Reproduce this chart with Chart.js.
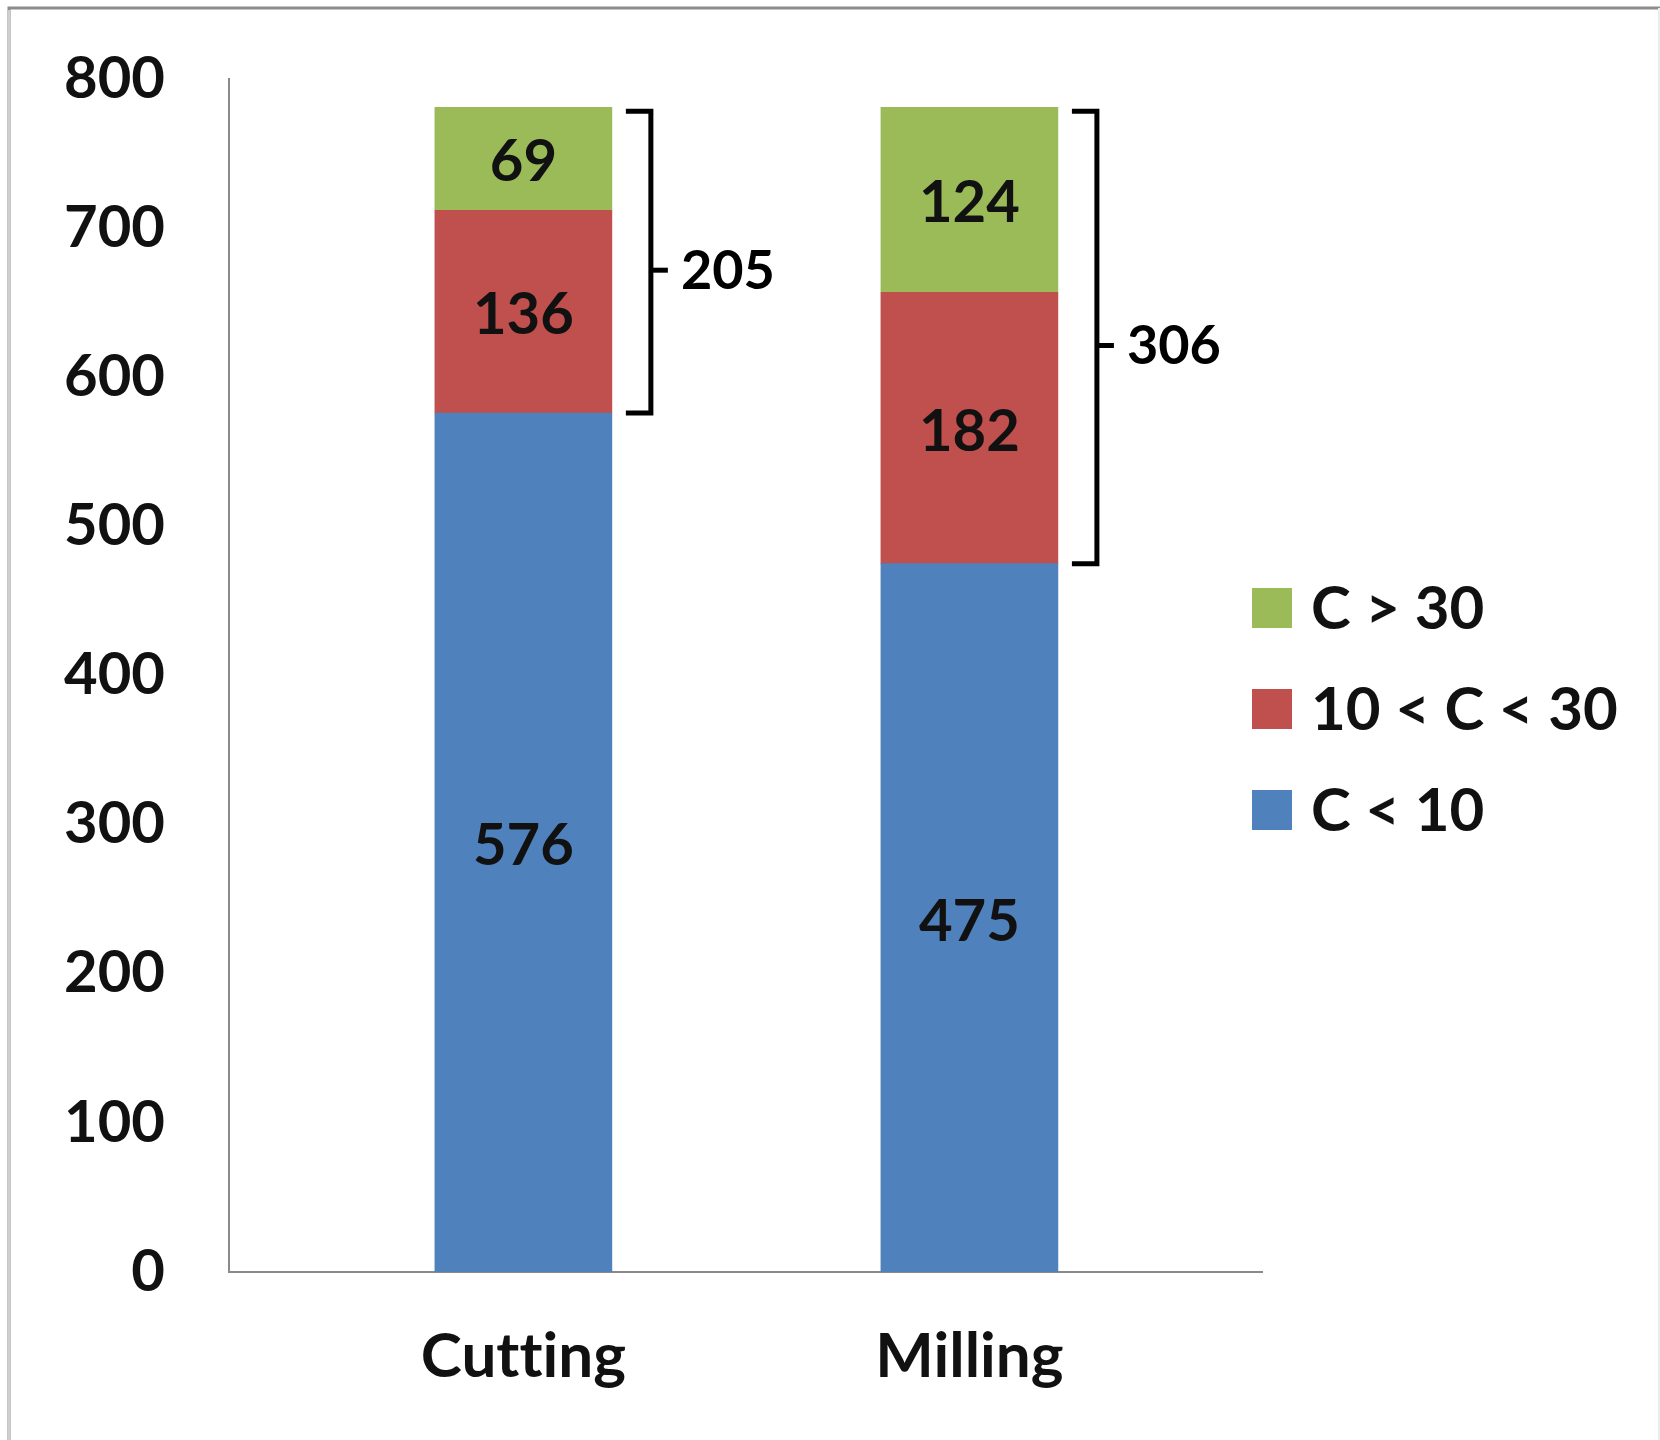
<!DOCTYPE html>
<html>
<head>
<meta charset="utf-8">
<title>Cutting vs Milling</title>
<script src="https://cdn.jsdelivr.net/npm/chart.js@4.4.1/dist/chart.umd.min.js"></script>
<style>
  html, body { margin: 0; padding: 0; background: #ffffff; }
  #wrap { position: relative; width: 1660px; height: 1440px; }
  canvas { display: block; }
</style>
</head>
<body>
<div id="wrap"><canvas id="chart" width="1660" height="1440"></canvas></div>
<script>
// Categories and stacked series (bottom to top)
const categories = ['Cutting', 'Milling'];
const seriesLabels = ['C < 10', '10 < C < 30', 'C > 30'];
const lowValues = [576, 475];
const midValues = [136, 182];
const highValues = [69, 124];
const yTicks = [0, 100, 200, 300, 400, 500, 600, 700, 800];

const colors = ['#4F81BD', '#C0504D', '#9BBB59'];
const FONT = 'Lato, "Open Sans", sans-serif';

function toPoints(values) {
  return values.map((v, i) => ({ x: i, y: v }));
}

// White page, frame lines and plain (non-ligated) text shaping
const framePlugin = {
  id: 'frame',
  beforeDraw(chart) {
    const ctx = chart.ctx;
    if ('textRendering' in ctx) ctx.textRendering = 'optimizeSpeed';
    ctx.save();
    ctx.fillStyle = '#ffffff';
    ctx.fillRect(0, 0, chart.width, chart.height);
    ctx.lineWidth = 3;
    ctx.strokeStyle = '#8c8c8c';
    ctx.beginPath();
    ctx.moveTo(9, 1440);
    ctx.lineTo(9, 8);
    ctx.lineTo(1660, 8);
    ctx.stroke();
    ctx.strokeStyle = '#cfcfcf';
    ctx.lineWidth = 2;
    ctx.beginPath();
    ctx.moveTo(9, 10);
    ctx.lineTo(9, 1440);
    ctx.stroke();
    ctx.strokeStyle = '#ececec';
    ctx.beginPath();
    ctx.moveTo(1659, 8);
    ctx.lineTo(1659, 1440);
    ctx.stroke();
    ctx.restore();
  }
};

// Value labels centred in each bar segment
const valueLabelPlugin = {
  id: 'valueLabels',
  afterDatasetsDraw(chart) {
    const ctx = chart.ctx;
    ctx.save();
    ctx.font = 'bold 58px ' + FONT;
    ctx.fillStyle = '#111111';
    ctx.textAlign = 'center';
    ctx.textBaseline = 'middle';
    chart.data.datasets.forEach((ds, di) => {
      const meta = chart.getDatasetMeta(di);
      meta.data.forEach((bar, i) => {
        const p = bar.getProps(['x', 'y', 'base'], true);
        ctx.fillText(String(ds.data[i].y), p.x, (p.y + p.base) / 2 + 4);
      });
    });
    ctx.restore();
  }
};

// Brackets spanning the two upper segments, labelled with their sum
const bracketPlugin = {
  id: 'brackets',
  afterDatasetsDraw(chart) {
    const ctx = chart.ctx;
    const y = chart.scales.y;
    const meta = chart.getDatasetMeta(0);
    ctx.save();
    ctx.strokeStyle = '#000000';
    ctx.lineWidth = 5;
    ctx.lineCap = 'butt';
    ctx.font = 'bold 54px ' + FONT;
    ctx.fillStyle = '#000000';
    ctx.textAlign = 'left';
    ctx.textBaseline = 'middle';
    categories.forEach((c, i) => {
      const bar = meta.data[i].getProps(['x', 'width'], true);
      const right = bar.x + bar.width / 2;
      const total = lowValues[i] + midValues[i] + highValues[i];
      const upper = midValues[i] + highValues[i];
      const yTop = y.getPixelForValue(total) + 4;
      const yBot = y.getPixelForValue(lowValues[i]);
      const yMid = (yTop + yBot) / 2 + 8;
      const x0 = right + 14;
      const xv = right + 39;
      ctx.beginPath();
      ctx.moveTo(x0, yTop);
      ctx.lineTo(xv, yTop);
      ctx.lineTo(xv, yBot);
      ctx.lineTo(x0, yBot);
      ctx.stroke();
      ctx.beginPath();
      ctx.moveTo(xv, yMid);
      ctx.lineTo(xv + 17, yMid);
      ctx.stroke();
      ctx.fillText(String(upper), xv + 30, yMid + 1);
    });
    ctx.restore();
  }
};

// Legend: squares with labels, top series first
const legendPlugin = {
  id: 'sideLegend',
  afterDraw(chart) {
    const ctx = chart.ctx;
    ctx.save();
    ctx.font = 'bold 60px ' + FONT;
    ctx.textAlign = 'left';
    ctx.textBaseline = 'middle';
    const order = [2, 1, 0];
    order.forEach((di, k) => {
      const ds = chart.data.datasets[di];
      const cy = 608 + k * 101;
      ctx.fillStyle = ds.backgroundColor;
      ctx.fillRect(1252, cy - 20, 40, 40);
      ctx.fillStyle = '#111111';
      ctx.fillText(ds.label, 1311, cy + 2);
    });
    ctx.restore();
  }
};

const datasets = [lowValues, midValues, highValues].map((vals, i) => ({
  label: seriesLabels[i],
  data: toPoints(vals),
  backgroundColor: colors[i],
  borderWidth: 0,
  barThickness: 177
}));

new Chart(document.getElementById('chart'), {
  type: 'bar',
  data: { datasets },
  options: {
    responsive: false,
    animation: false,
    layout: { padding: { left: 0, top: 79, right: 398, bottom: 0 } },
    plugins: {
      legend: { display: false },
      tooltip: { enabled: false },
      title: { display: false }
    },
    scales: {
      x: {
        type: 'linear',
        stacked: true,
        offset: false,
        min: -0.66,
        max: 1.656,
        grid: { display: false, drawTicks: false, offset: false },
        border: { display: true, color: '#8a8a8a', width: 2 },
        afterBuildTicks(scale) {
          scale.ticks = categories.map((_, i) => ({ value: i }));
        },
        afterFit(scale) {
          scale.height = 1440 - 1272;
          scale.paddingLeft = 0;
          scale.paddingRight = 0;
        },
        ticks: {
          padding: 48,
          color: '#111111',
          font: { family: FONT, size: 62, weight: 'bold' },
          callback: (v) => categories[v] ?? ''
        }
      },
      y: {
        type: 'linear',
        stacked: true,
        min: 0,
        max: 800,
        grid: { display: false, drawTicks: false },
        border: { display: true, color: '#8a8a8a', width: 2 },
        afterBuildTicks(scale) {
          scale.ticks = yTicks.map(v => ({ value: v }));
        },
        afterFit(scale) {
          scale.width = 229;
          scale.paddingTop = 0;
          scale.paddingBottom = 0;
        },
        ticks: {
          padding: 64,
          color: '#111111',
          font: { family: FONT, size: 58, weight: 'bold' }
        }
      }
    }
  },
  plugins: [framePlugin, valueLabelPlugin, bracketPlugin, legendPlugin]
});
</script>
</body>
</html>
